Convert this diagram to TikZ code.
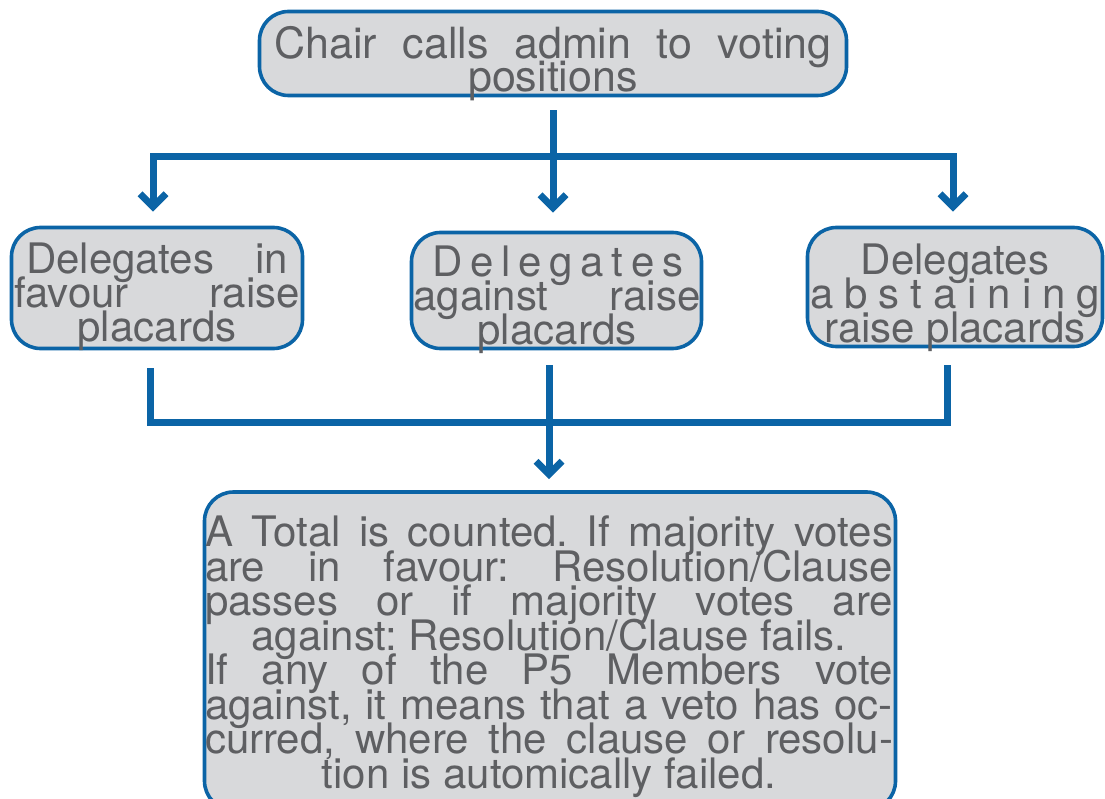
\documentclass[tikz,border=0pt]{standalone}
\usepackage{fontspec}
\setmainfont{TeX Gyre Heros}
\usetikzlibrary{arrows.meta}
\definecolor{boxfill}{HTML}{D8D9DB}
\definecolor{boxline}{HTML}{0B64A6}
\definecolor{txtgray}{HTML}{5E5F62}
\newcommand{\jline}[2]{\makebox[#1pt][s]{#2}}
\newcommand{\tightfont}[2]{\fontsize{#1}{#2}\selectfont\frenchspacing\lineskiplimit=-1000pt\lineskip=0pt\relax}
\begin{document}
\begin{tikzpicture}[x=1pt,y=-1pt,
  box/.style={draw=boxline, fill=boxfill, line width=3.6pt, rounded corners=29pt, inner sep=0pt, rectangle},
  txt/.style={text=txtgray, inner sep=0pt, align=center, anchor=north, font=\tightfont{42}{34}},
  conn/.style={draw=boxline, line width=7pt, line join=miter},
  tip/.style={-{Straight Barb[length=13pt,width=26pt]}}]
\useasboundingbox (0,0) rectangle (1105,799);

% boxes
\node[box, minimum width=587pt, minimum height=84pt] (top) at (553,53.5) {};
\node[box, minimum width=291pt, minimum height=121pt] (left) at (157,288) {};
\node[box, minimum width=290pt, minimum height=116pt] (mid) at (556.5,290.5) {};
\node[box, minimum width=295pt, minimum height=119pt] (right) at (955,287) {};
\node[box, minimum width=691pt, minimum height=318pt] (bot) at (550,651) {};

% texts
\node[txt, font=\tightfont{43}{33}] (ttop) at (553,26) {\jline{557}{Chair calls admin to voting}\\positions};
\node[txt] (tleft) at (157,243) {\jline{262}{Delegates in}\\\jline{286}{favour raise}\\placards};
\node[txt] (tmid) at (557,246) {\jline{250}{D e l e g a t e s}\\\jline{287}{against raise}\\placards};
\node[txt] (tright) at (955,244) {Delegates\\\jline{290}{a b s t a i n i n g}\\raise placards};
\node[txt, font=\tightfont{42}{34.5}] (tbot) at (549,516) {\jline{688}{A Total is counted. If majority votes}\\
\jline{688}{are in favour: Resolution/Clause}\\
\jline{688}{passes or if majority votes are}\\
against: Resolution/Clause fails.\\
\jline{688}{If any of the P5 Members vote}\\
\jline{688}{against, it means that a veto has oc-}\\
\jline{688}{curred, where the clause or resolu-}\\
tion is automically failed.};

% connector coordinates
\coordinate (xc) at (553,0);
\coordinate (xl) at (153,0);
\coordinate (xr) at (953,0);
\coordinate (xbl) at (150,0);
\coordinate (xbm) at (549,0);
\coordinate (xbr) at (947,0);
\coordinate (tj) at (553,157);
\coordinate (bj) at (549,422);

\draw[conn, tip, shorten <=13pt, shorten >=18pt] (xc |- top.south) -- (xc |- mid.north);
\draw[conn, tip, shorten >=14pt] (tj) -| (xl |- left.north);
\draw[conn, tip, shorten >=14pt] (tj) -| (xr |- right.north);

\draw[conn, shorten <=18pt] (xbl |- left.south) |- (bj);
\draw[conn, shorten <=17pt] (xbr |- right.south) |- (bj);
\draw[conn, tip, shorten <=15pt, shorten >=11pt] (xbm |- mid.south) -- (xbm |- bot.north);
\end{tikzpicture}
\end{document}
